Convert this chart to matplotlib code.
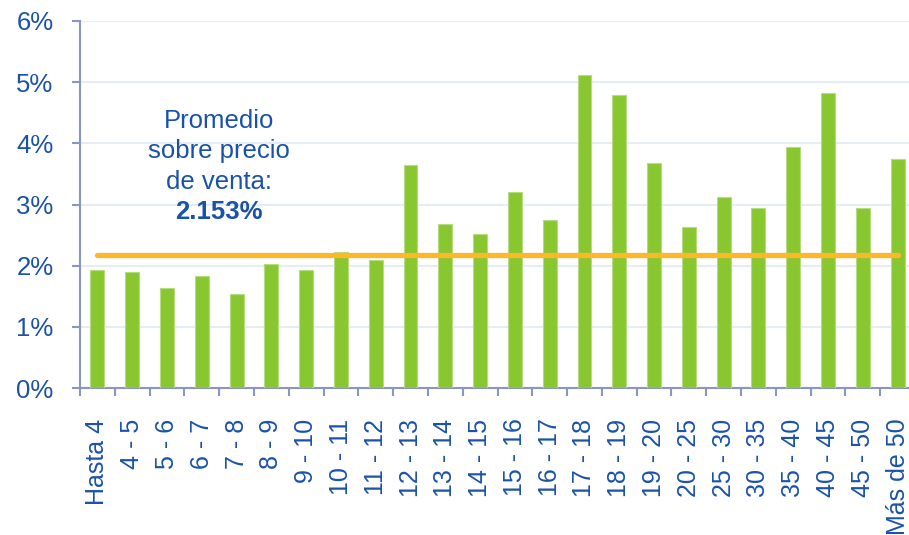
import matplotlib
matplotlib.use("Agg")
import matplotlib.pyplot as plt

plt.rcParams['font.family'] = ['Liberation Sans', 'DejaVu Sans']

categorias = ["Hasta 4", "4 - 5", "5 - 6", "6 - 7", "7 - 8", "8 - 9", "9 - 10",
              "10 - 11", "11 - 12", "12 - 13", "13 - 14", "14 - 15", "15 - 16",
              "16 - 17", "17 - 18", "18 - 19", "19 - 20", "20 - 25", "25 - 30",
              "30 - 35", "35 - 40", "40 - 45", "45 - 50", "Más de 50"]
valores = [1.93, 1.90, 1.64, 1.83, 1.54, 2.03, 1.93,
           2.22, 2.09, 3.65, 2.68, 2.51, 3.20,
           2.74, 5.12, 4.79, 3.68, 2.64, 3.13,
           2.94, 3.94, 4.82, 2.94, 3.75]
linea_promedio = 2.17
texto_promedio = "2.153%"
y_ticks = [0, 1, 2, 3, 4, 5, 6]

azul = "#1A52A8"
fig = plt.figure(figsize=(9.09, 5.35), dpi=100)
# the original is cropped on the right, so the axes run past the edge
ax = fig.add_axes([80 / 909, 1 - 388 / 535, 835 / 909, 367 / 535])

x = list(range(len(categorias)))
ax.bar(x, valores, width=0.4, color="#89C731", edgecolor="#B5DD80",
       linewidth=0.8, zorder=3)
ax.plot([x[0], x[-1]], [linea_promedio, linea_promedio], color="#FBB829",
        linewidth=3.8, solid_capstyle="round", zorder=4)

ax.set_xlim(-0.5, len(categorias) - 0.5)
ax.set_ylim(0, 6)
ax.set_yticks(y_ticks)
ax.set_yticklabels([f"{v}%" for v in y_ticks], fontsize=18.5, color=azul)
ax.set_xticks([i - 0.5 for i in x], minor=False)
ax.set_xticklabels([])
ax.set_xticks(x, minor=True)
ax.set_xticklabels(categorias, minor=True, rotation=90, fontsize=18,
                   color=azul, va="top", ha="center")
ax.tick_params(axis="x", which="minor", length=0, pad=22)
ax.tick_params(axis="x", which="major", length=6, color="#8A96C0", width=1.5)
ax.tick_params(axis="y", length=6, color="#8A96C0", width=1.5, pad=13)

ax.grid(axis="y", color="#E6ECF5", linewidth=1.5, zorder=0)
for s in ["top", "right"]:
    ax.spines[s].set_visible(False)
for s in ["left", "bottom"]:
    ax.spines[s].set_color("#8A96C0")
    ax.spines[s].set_linewidth(1.5)

ax.text(3.5, 4.37, "Promedio", ha="center", va="center", fontsize=18.5, color=azul)
ax.text(3.5, 3.88, "sobre precio", ha="center", va="center", fontsize=18.5, color=azul)
ax.text(3.5, 3.37, "de venta:", ha="center", va="center", fontsize=18.5, color=azul)
ax.text(3.5, 2.87, texto_promedio, ha="center", va="center", fontsize=18.5,
        color=azul, fontweight="bold")

fig.savefig("out.png", dpi=100)
